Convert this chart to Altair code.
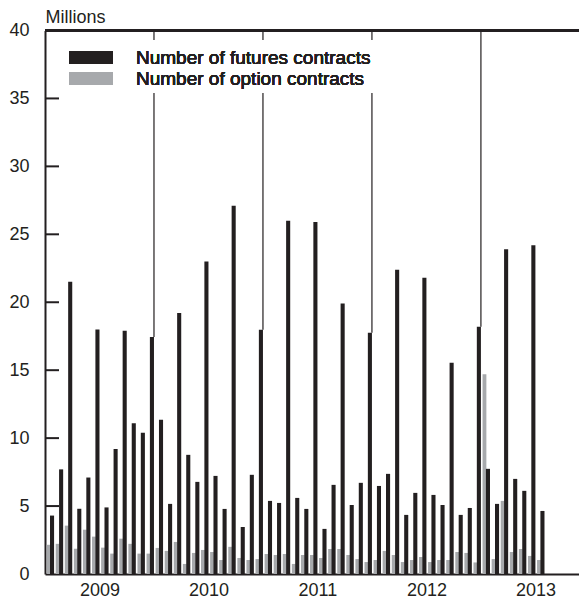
import altair as alt
import pandas as pd

# ---- data (millions of contracts, monthly Jan 2009 - Jul 2013) ----
years = [2009, 2010, 2011, 2012, 2013]
futures = [
    4.3, 7.7, 21.5, 4.8, 7.1, 18.0, 4.9, 9.2, 17.9, 11.1, 10.4, 17.45,
    11.35, 5.16, 19.2, 8.77, 6.78, 23.0, 7.22, 4.79, 27.1, 3.46, 7.3, 17.98,
    5.38, 5.23, 26.0, 5.6, 4.79, 25.9, 3.32, 6.56, 19.9, 5.08, 6.71, 17.76,
    6.48, 7.37, 22.4, 4.35, 5.97, 21.8, 5.82, 5.08, 15.55, 4.35, 4.86, 18.2,
    7.74, 5.16, 23.9, 7.0, 6.12, 24.2, 4.64,
]
options = [
    2.15, 2.22, 3.56, 1.86, 3.26, 2.75, 1.94, 1.5, 2.6, 2.22, 1.5, 1.5,
    1.92, 1.7, 2.36, 0.74, 1.55, 1.77, 1.62, 1.03, 2.0, 1.18, 1.03, 1.1,
    1.47, 1.4, 1.47, 0.74, 1.4, 1.4, 1.18, 1.84, 1.84, 1.4, 1.1, 0.88,
    1.03, 1.7, 1.4, 0.88, 1.03, 1.25, 0.88, 1.03, 1.03, 1.62, 1.55, 0.85,
    14.7, 1.1, 5.38, 1.62, 1.84, 1.33, 1.03,
]
y_ticks = [5, 10, 15, 20, 25, 30, 35]
legend_labels = ["Number of futures contracts", "Number of option contracts"]

BLACK = "#231f20"
GRAY = "#a7a9ac"
FONT = "Liberation Sans"
W, H = 534, 543.5

n = len(futures)
df_opt = pd.DataFrame({"m0": [i + 0.18 for i in range(n)],
                       "m1": [i + 0.60 for i in range(n)],
                       "v": options})
df_fut = pd.DataFrame({"m0": [i + 0.55 for i in range(n)],
                       "m1": [i + 1.0 for i in range(n)],
                       "v": futures})
bounds = [12 * (k + 1) for k in range(len(years) - 1)]
df_year = pd.DataFrame({"m0": bounds, "v": [40] * len(bounds),
                        "bot": [futures[b - 1] for b in bounds]})
df_ticks = pd.DataFrame({"v": y_ticks})

xscale = alt.Scale(domain=[0, 58.8], nice=False, zero=False)
yscale = alt.Scale(domain=[0, 40], nice=False)

xaxis = alt.Axis(values=[12 * k + 6 for k in range(len(years))],
                 labelExpr="'' + (2009 + floor(datum.value / 12))",
                 ticks=False, grid=False, domain=True, domainColor=BLACK,
                 domainWidth=2, labelFontSize=18, labelFont=FONT,
                 labelColor=BLACK, labelPadding=7, title=None)
yaxis = alt.Axis(values=list(range(0, 41, 5)), ticks=False, grid=False,
                 domain=True, domainColor=BLACK, domainWidth=2,
                 labelFontSize=18, labelFont=FONT, labelColor=BLACK,
                 labelPadding=16, title="Millions", titleAngle=0,
                 titleX=0, titleY=-8, titleAlign="left",
                 titleBaseline="alphabetic", titleFontSize=18,
                 titleFont=FONT, titleFontWeight="normal", titleColor=BLACK)

X = alt.X("m0:Q", scale=xscale, axis=xaxis)
Y = alt.Y("v:Q", scale=yscale, axis=yaxis)

year_lines = alt.Chart(df_year).mark_rule(color=BLACK, strokeWidth=1.2).encode(
    x=X, y=Y, y2="bot:Q",
)
opt_bars = alt.Chart(df_opt).mark_rect(color=GRAY).encode(
    x=X, x2="m1:Q", y=Y, y2=alt.datum(0),
)
fut_bars = alt.Chart(df_fut).mark_rect(color=BLACK).encode(
    x=X, x2="m1:Q", y=Y, y2=alt.datum(0),
)
tick_rules = alt.Chart(df_ticks).mark_rule(color=BLACK, strokeWidth=2).encode(
    y=Y, x=alt.value(0), x2=alt.value(14),
)
top_line = alt.Chart(df_ticks).mark_rule(color=BLACK, strokeWidth=2).encode(
    x=alt.value(0), x2=alt.value(W), y=alt.value(0),
)

# legend (drawn by hand, on a white box like the original)
leg_bg = alt.Chart(df_ticks).mark_rect(color="white").encode(
    x=alt.value(13), x2=alt.value(353), y=alt.value(9.5), y2=alt.value(62.5),
)
leg_sym1 = alt.Chart(df_ticks).mark_rect(color=BLACK).encode(
    x=alt.value(24), x2=alt.value(68), y=alt.value(20.5), y2=alt.value(33.5),
)
leg_sym2 = alt.Chart(df_ticks).mark_rect(color=GRAY).encode(
    x=alt.value(24), x2=alt.value(68), y=alt.value(41.5), y2=alt.value(54.5),
)
leg_txt1 = alt.Chart(df_ticks).mark_text(
    align="left", baseline="alphabetic", fontSize=19, font=FONT, color=BLACK,
    text=legend_labels[0]).encode(x=alt.value(91), y=alt.value(33))
leg_txt2 = alt.Chart(df_ticks).mark_text(
    align="left", baseline="alphabetic", fontSize=19, font=FONT, color=BLACK,
    text=legend_labels[1]).encode(x=alt.value(91), y=alt.value(54))

chart = alt.layer(
    year_lines, opt_bars, fut_bars, leg_bg, leg_sym1, leg_sym2,
    leg_txt1, leg_txt2, tick_rules, top_line,
).properties(
    width=W, height=H,
    autosize=alt.AutoSizeParams(type="none"),
    padding={"left": 37, "top": 22.5, "right": 0, "bottom": 24},
    background="white",
).configure_view(stroke=None)

chart.save("out.html", embed_options={"renderer": "svg", "actions": False})
